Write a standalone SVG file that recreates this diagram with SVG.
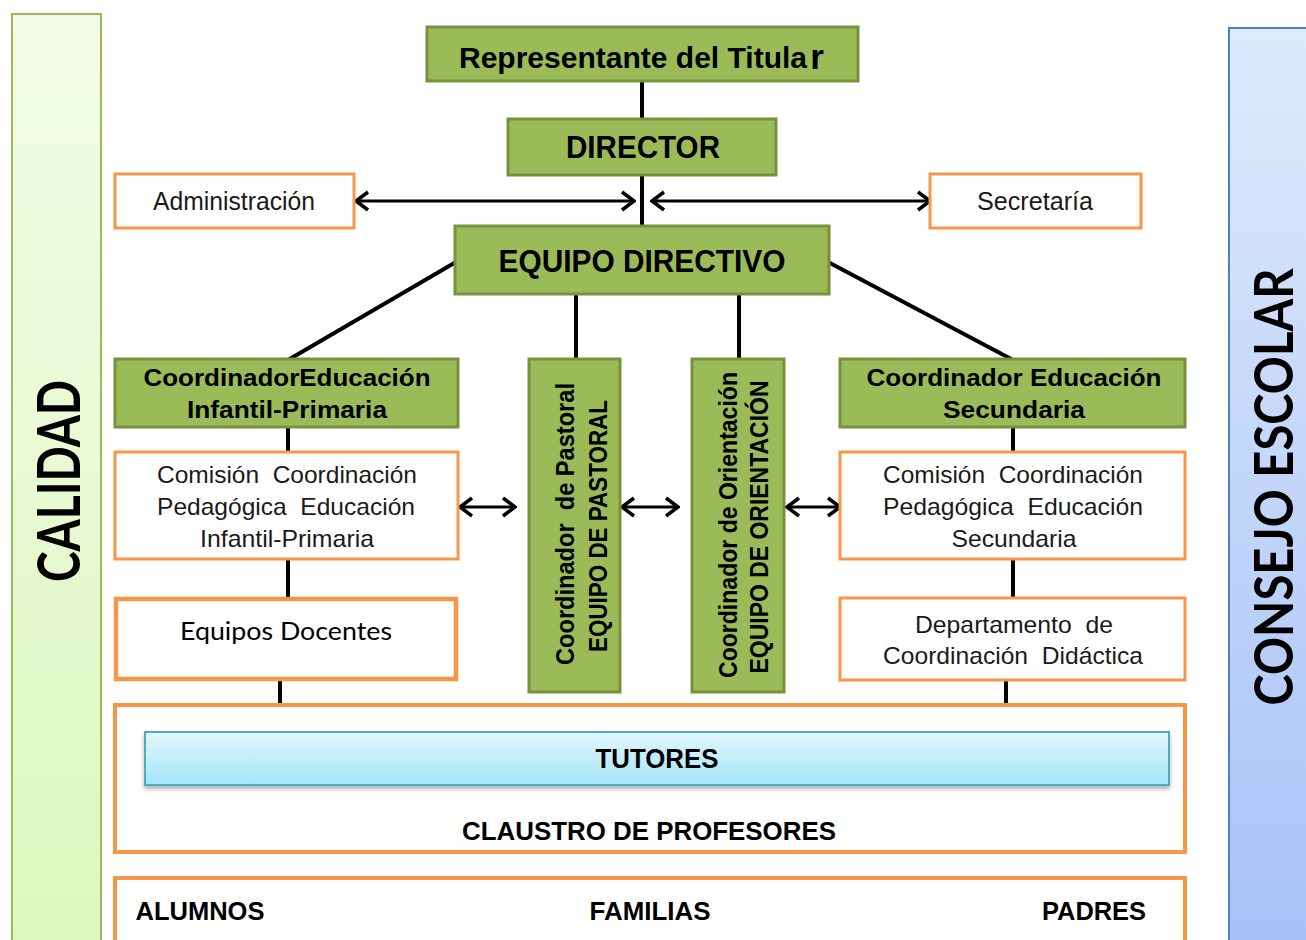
<svg xmlns="http://www.w3.org/2000/svg" width="1306" height="940" viewBox="0 0 1306 940">
<style>
.green{fill:#9bbb59;stroke:#76923c;stroke-width:3}
.orange{fill:#fff;stroke:#f79646;stroke-width:3}
.conn{stroke:#000;stroke-width:4;fill:none}
.arr{stroke:#000;stroke-width:3;fill:none;marker-start:url(#ah);marker-end:url(#ah)}
.tb{font-family:"Liberation Sans",Arial,sans-serif;font-weight:bold;fill:#000;text-anchor:middle}
.tr{font-family:"Liberation Sans",Arial,sans-serif;fill:#1a1a1a;text-anchor:middle}
.cal{font-family:Lato,"Liberation Sans",sans-serif;font-weight:bold;fill:#000;text-anchor:middle}
</style>
<defs>
<linearGradient id="gLeft" x1="0" y1="0" x2="0" y2="1"><stop offset="0" stop-color="#f3fce8"/><stop offset="1" stop-color="#ddf7bd"/></linearGradient>
<linearGradient id="gRight" x1="0" y1="0" x2="0" y2="1"><stop offset="0" stop-color="#dfe9fc"/><stop offset="1" stop-color="#a6c2f7"/></linearGradient>
<linearGradient id="gTut" x1="0" y1="0" x2="0" y2="1"><stop offset="0" stop-color="#e3f7fd"/><stop offset="1" stop-color="#a5e5fa"/></linearGradient>
<filter id="sh" x="-5%" y="-20%" width="110%" height="150%"><feDropShadow dx="0" dy="3" stdDeviation="2" flood-color="#000" flood-opacity="0.3"/></filter>
<marker id="ah" viewBox="0 0 16 22" refX="14" refY="11" markerWidth="16" markerHeight="22" orient="auto-start-reverse" markerUnits="userSpaceOnUse"><path d="M2,2 L14,11 L2,20" fill="none" stroke="#000" stroke-width="3.5" stroke-linejoin="miter"/></marker>
</defs>
<rect width="1306" height="940" fill="#fff"/>

<g id="calidad">
<rect x="12" y="14" width="89" height="940" fill="url(#gLeft)" stroke="#9bbb59" stroke-width="2"/>
<text class="cal" x="80" y="481" font-size="60" textLength="202" lengthAdjust="spacingAndGlyphs" transform="rotate(-90 80 481)">CALIDAD</text>
</g>

<g id="consejo-escolar">
<rect x="1229" y="28" width="100" height="930" fill="url(#gRight)" stroke="#4f81bd" stroke-width="2"/>
<text class="cal" x="1293" y="487" font-size="54" textLength="437" lengthAdjust="spacingAndGlyphs" transform="rotate(-90 1293 487)">CONSEJO ESCOLAR</text>
</g>

<g id="connectors">
<line class="conn" x1="642" y1="81" x2="642" y2="119"/>
<line class="conn" x1="642" y1="175" x2="642" y2="226"/>
<line class="arr" x1="356" y1="201" x2="634" y2="201"/>
<line class="arr" x1="652" y1="201" x2="930" y2="201"/>
<line class="conn" x1="456" y1="262" x2="288" y2="360"/>
<line class="conn" x1="828" y1="262" x2="1013" y2="360"/>
<line class="conn" x1="576" y1="294" x2="576" y2="360"/>
<line class="conn" x1="739" y1="294" x2="739" y2="360"/>
<line class="conn" x1="288" y1="427" x2="288" y2="452"/>
<line class="conn" x1="288" y1="559" x2="288" y2="598"/>
<line class="conn" x1="280" y1="680" x2="280" y2="705"/>
<line class="conn" x1="1013" y1="427" x2="1013" y2="452"/>
<line class="conn" x1="1013" y1="559" x2="1013" y2="598"/>
<line class="conn" x1="1006" y1="680" x2="1006" y2="705"/>
<line class="arr" x1="460" y1="507" x2="515" y2="507"/>
<line class="arr" x1="622" y1="507" x2="678" y2="507"/>
<line class="arr" x1="787" y1="507" x2="840" y2="507"/>
</g>

<g id="representante">
<rect class="green" x="427" y="27" width="431" height="54"/>
<text class="tb" x="633" y="68" font-size="29" textLength="348" lengthAdjust="spacingAndGlyphs">Representante del Titula</text>
<text class="tb" x="817" y="69" font-size="35">r</text>
</g>

<g id="director">
<rect class="green" x="508" y="119" width="268" height="56"/>
<text class="tb" x="643" y="158" font-size="31" textLength="154" lengthAdjust="spacingAndGlyphs">DIRECTOR</text>
</g>

<g id="administracion">
<rect class="orange" x="115" y="174" width="239" height="54"/>
<text class="tr" x="234" y="210" font-size="25" textLength="162" lengthAdjust="spacingAndGlyphs">Administración</text>
</g>

<g id="secretaria">
<rect class="orange" x="930" y="174" width="211" height="54"/>
<text class="tr" x="1035" y="210" font-size="25" textLength="116" lengthAdjust="spacingAndGlyphs">Secretaría</text>
</g>

<g id="equipo-directivo">
<rect class="green" x="455" y="226" width="374" height="68"/>
<text class="tb" x="642" y="272" font-size="31" textLength="287" lengthAdjust="spacingAndGlyphs">EQUIPO DIRECTIVO</text>
</g>

<g id="coord-infantil">
<rect class="green" x="115" y="359" width="343" height="68"/>
<text class="tb" x="287" y="386" font-size="24" textLength="287" lengthAdjust="spacingAndGlyphs">CoordinadorEducación</text>
<text class="tb" x="287" y="418" font-size="24" textLength="200" lengthAdjust="spacingAndGlyphs">Infantil-Primaria</text>
</g>

<g id="coord-secundaria">
<rect class="green" x="840" y="359" width="345" height="68"/>
<text class="tb" x="1014" y="386" font-size="24" textLength="295" lengthAdjust="spacingAndGlyphs">Coordinador Educación</text>
<text class="tb" x="1014" y="418" font-size="24" textLength="142" lengthAdjust="spacingAndGlyphs">Secundaria</text>
</g>

<g id="pastoral">
<rect class="green" x="529" y="359" width="91" height="333"/>
<text class="tb" x="574" y="524" font-size="25" textLength="282" lengthAdjust="spacingAndGlyphs" transform="rotate(-90 574 524)">Coordinador&#160; de Pastoral</text>
<text class="tb" x="607" y="526" font-size="26" textLength="252" lengthAdjust="spacingAndGlyphs" transform="rotate(-90 607 526)">EQUIPO DE PASTORAL</text>
</g>

<g id="orientacion">
<rect class="green" x="692" y="359" width="92" height="333"/>
<text class="tb" x="737" y="525" font-size="25" textLength="306" lengthAdjust="spacingAndGlyphs" transform="rotate(-90 737 525)">Coordinador de Orientación</text>
<text class="tb" x="768" y="527" font-size="26" textLength="293" lengthAdjust="spacingAndGlyphs" transform="rotate(-90 768 527)">EQUIPO DE ORIENTACIÓN</text>
</g>

<g id="comision-infantil">
<rect class="orange" x="115" y="452" width="343" height="107"/>
<text class="tr" x="287" y="483" font-size="24" textLength="260" lengthAdjust="spacingAndGlyphs">Comisión&#160; Coordinación</text>
<text class="tr" x="286" y="515" font-size="24" textLength="258" lengthAdjust="spacingAndGlyphs">Pedagógica&#160; Educación</text>
<text class="tr" x="287" y="547" font-size="24" textLength="174" lengthAdjust="spacingAndGlyphs">Infantil-Primaria</text>
</g>

<g id="comision-secundaria">
<rect class="orange" x="840" y="452" width="345" height="107"/>
<text class="tr" x="1013" y="483" font-size="24" textLength="260" lengthAdjust="spacingAndGlyphs">Comisión&#160; Coordinación</text>
<text class="tr" x="1013" y="515" font-size="24" textLength="260" lengthAdjust="spacingAndGlyphs">Pedagógica&#160; Educación</text>
<text class="tr" x="1014" y="547" font-size="24" textLength="125" lengthAdjust="spacingAndGlyphs">Secundaria</text>
</g>

<g id="equipos-docentes">
<rect x="116" y="599" width="340" height="80" fill="#fff" stroke="#f79646" stroke-width="4.5"/>
<text x="286" y="640" font-family="Lato,'Liberation Sans',sans-serif" font-size="25" fill="#000" text-anchor="middle" textLength="212" lengthAdjust="spacingAndGlyphs">Equipos Docentes</text>
</g>

<g id="departamento">
<rect class="orange" x="840" y="598" width="345" height="82"/>
<text class="tr" x="1014" y="633" font-size="24" textLength="198" lengthAdjust="spacingAndGlyphs">Departamento&#160; de</text>
<text class="tr" x="1013" y="664" font-size="24" textLength="260" lengthAdjust="spacingAndGlyphs">Coordinación&#160; Didáctica</text>
</g>

<g id="claustro">
<rect x="115" y="705" width="1070" height="147" fill="#fff" stroke="#f79646" stroke-width="4"/>
<text class="tb" x="649" y="840" font-size="25" textLength="374" lengthAdjust="spacingAndGlyphs">CLAUSTRO DE PROFESORES</text>
</g>

<g id="tutores">
<rect x="145" y="732" width="1024" height="53" fill="url(#gTut)" stroke="#4bacc6" stroke-width="2" filter="url(#sh)"/>
<text class="tb" x="657" y="768" font-size="27" textLength="123" lengthAdjust="spacingAndGlyphs">TUTORES</text>
</g>

<g id="comunidad">
<rect x="115" y="878" width="1070" height="80" fill="#fff" stroke="#f79646" stroke-width="4"/>
<text class="tb" x="200" y="920" font-size="25" textLength="129" lengthAdjust="spacingAndGlyphs">ALUMNOS</text>
<text class="tb" x="650" y="920" font-size="25" textLength="121" lengthAdjust="spacingAndGlyphs">FAMILIAS</text>
<text class="tb" x="1094" y="920" font-size="25" textLength="104" lengthAdjust="spacingAndGlyphs">PADRES</text>
</g>
</svg>
